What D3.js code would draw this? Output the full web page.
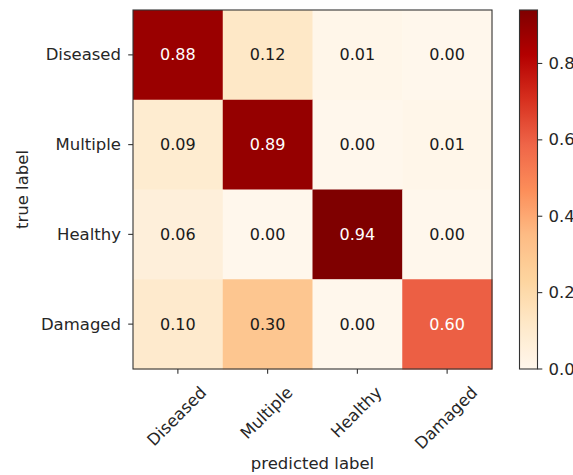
<!DOCTYPE html>
<html>
<head>
<meta charset="utf-8">
<script src="https://cdn.jsdelivr.net/npm/d3@7"></script>
<style>
  html, body { margin: 0; padding: 0; background: #fff; }
  svg { display: block; }
  text { font-family: "DejaVu Sans", sans-serif; fill: #262626; }
</style>
</head>
<body>
<div id="chart"></div>
<script>
// Confusion matrix: rows are the true class, columns the predicted class.
const classes = ["Diseased", "Multiple", "Healthy", "Damaged"];
const rowDiseased = [0.88, 0.12, 0.01, 0.00];
const rowMultiple = [0.09, 0.89, 0.00, 0.01];
const rowHealthy  = [0.06, 0.00, 0.94, 0.00];
const rowDamaged  = [0.10, 0.30, 0.00, 0.60];
const matrix = [rowDiseased, rowMultiple, rowHealthy, rowDamaged];
const colorbarTicks = [0.0, 0.2, 0.4, 0.6, 0.8];

// ColorBrewer OrRd anchors, interpolated linearly
const orRd = ["#fff7ec", "#fee8c8", "#fdd49e", "#fdbb84", "#fc8d59",
              "#ef6548", "#d7301f", "#b30000", "#7f0000"];

const W = 573, H = 475;
const plot = { left: 133, top: 10, size: 359 };
const cbar = { left: 519.5, width: 18, top: 10, bottom: 369 };
const fontSize = 16.5;

const svg = d3.select("#chart").append("svg")
  .attr("width", W).attr("height", H);

const vmin = 0;
const vmax = d3.max(matrix.flat());
const t = d3.scaleLinear().domain([vmin, vmax]).range([0, 1]);
const ramp = d3.scaleLinear()
  .domain(orRd.map((_, i) => i / (orRd.length - 1)))
  .range(orRd)
  .interpolate(d3.interpolateRgb);
const color = v => ramp(Math.max(0, Math.min(1, t(v))));

const x = d3.scaleBand().domain(classes)
  .range([plot.left, plot.left + plot.size]).padding(0);
const y = d3.scaleBand().domain(classes)
  .range([plot.top, plot.top + plot.size]).padding(0);

// cells
const cells = [];
matrix.forEach((row, i) => row.forEach((v, j) =>
  cells.push({ actual: classes[i], predicted: classes[j], value: v })));

svg.append("g").selectAll("rect").data(cells).join("rect")
  .attr("x", d => x(d.predicted))
  .attr("y", d => y(d.actual))
  .attr("width", x.bandwidth() + 0.5)
  .attr("height", y.bandwidth() + 0.5)
  .attr("fill", d => color(d.value));

// cell annotations
const thresh = vmax / 2;
svg.append("g").selectAll("text").data(cells).join("text")
  .attr("x", d => x(d.predicted) + x.bandwidth() / 2)
  .attr("y", d => y(d.actual) + y.bandwidth() / 2)
  .attr("text-anchor", "middle")
  .attr("dominant-baseline", "central")
  .style("font-size", "16px")
  .style("fill", d => d.value > thresh ? "#ffffff" : "#1a1a1a")
  .text(d => d.value.toFixed(2));

// frame
svg.append("rect")
  .attr("x", plot.left).attr("y", plot.top)
  .attr("width", plot.size).attr("height", plot.size)
  .attr("fill", "none").attr("stroke", "#333").attr("stroke-width", 1.1);

// y axis
const yAxis = svg.append("g");
classes.forEach(c => {
  const cy = y(c) + y.bandwidth() / 2;
  yAxis.append("line")
    .attr("x1", plot.left - 4.8).attr("x2", plot.left)
    .attr("y1", cy).attr("y2", cy)
    .attr("stroke", "#333").attr("stroke-width", 1.1);
  yAxis.append("text")
    .attr("x", 121).attr("y", cy)
    .attr("text-anchor", "end")
    .attr("dominant-baseline", "central")
    .style("font-size", fontSize + "px")
    .text(c);
});

// x axis with 45° labels centred under each tick
const xAxis = svg.append("g");
const bottom = plot.top + plot.size;
classes.forEach(c => {
  const cx = x(c) + x.bandwidth() / 2;
  xAxis.append("line")
    .attr("x1", cx).attr("x2", cx)
    .attr("y1", bottom).attr("y2", bottom + 4.8)
    .attr("stroke", "#333").attr("stroke-width", 1.1);
  const lbl = xAxis.append("text")
    .attr("text-anchor", "middle")
    .attr("dominant-baseline", "central")
    .style("font-size", fontSize + "px")
    .text(c);
  const w = lbl.node().getComputedTextLength();
  const h = fontSize * 1.16;
  const boxH = (w + h) / Math.SQRT2;
  const topY = bottom + 14;
  lbl.attr("transform", `translate(${cx - 1},${topY + boxH / 2}) rotate(-45)`);
});

// axis titles
svg.append("text")
  .attr("x", plot.left + plot.size / 2).attr("y", 469)
  .attr("text-anchor", "middle")
  .style("font-size", fontSize + "px")
  .text("predicted label");

svg.append("text")
  .attr("transform", `translate(28,${plot.top + plot.size / 2}) rotate(-90)`)
  .attr("text-anchor", "middle")
  .style("font-size", fontSize + "px")
  .text("true label");

// colorbar
const cScale = d3.scaleLinear().domain([vmin, vmax]).range([cbar.bottom, cbar.top]);
const grad = svg.append("defs").append("linearGradient")
  .attr("id", "cbar-grad")
  .attr("x1", 0).attr("y1", 1).attr("x2", 0).attr("y2", 0);
d3.range(0, 1.0001, 1 / 64).forEach(s => {
  grad.append("stop")
    .attr("offset", s)
    .attr("stop-color", ramp(s));
});
svg.append("rect")
  .attr("x", cbar.left).attr("y", cbar.top)
  .attr("width", cbar.width).attr("height", cbar.bottom - cbar.top)
  .attr("fill", "url(#cbar-grad)")
  .attr("stroke", "#333").attr("stroke-width", 1.1);

const cAxis = svg.append("g");
colorbarTicks.forEach(v => {
  const cy = cScale(v);
  cAxis.append("line")
    .attr("x1", cbar.left + cbar.width).attr("x2", cbar.left + cbar.width + 4.8)
    .attr("y1", cy).attr("y2", cy)
    .attr("stroke", "#333").attr("stroke-width", 1.1);
  cAxis.append("text")
    .attr("x", cbar.left + cbar.width + 11).attr("y", cy)
    .attr("dominant-baseline", "central")
    .style("font-size", fontSize + "px")
    .text(v.toFixed(1));
});
</script>
</body>
</html>
